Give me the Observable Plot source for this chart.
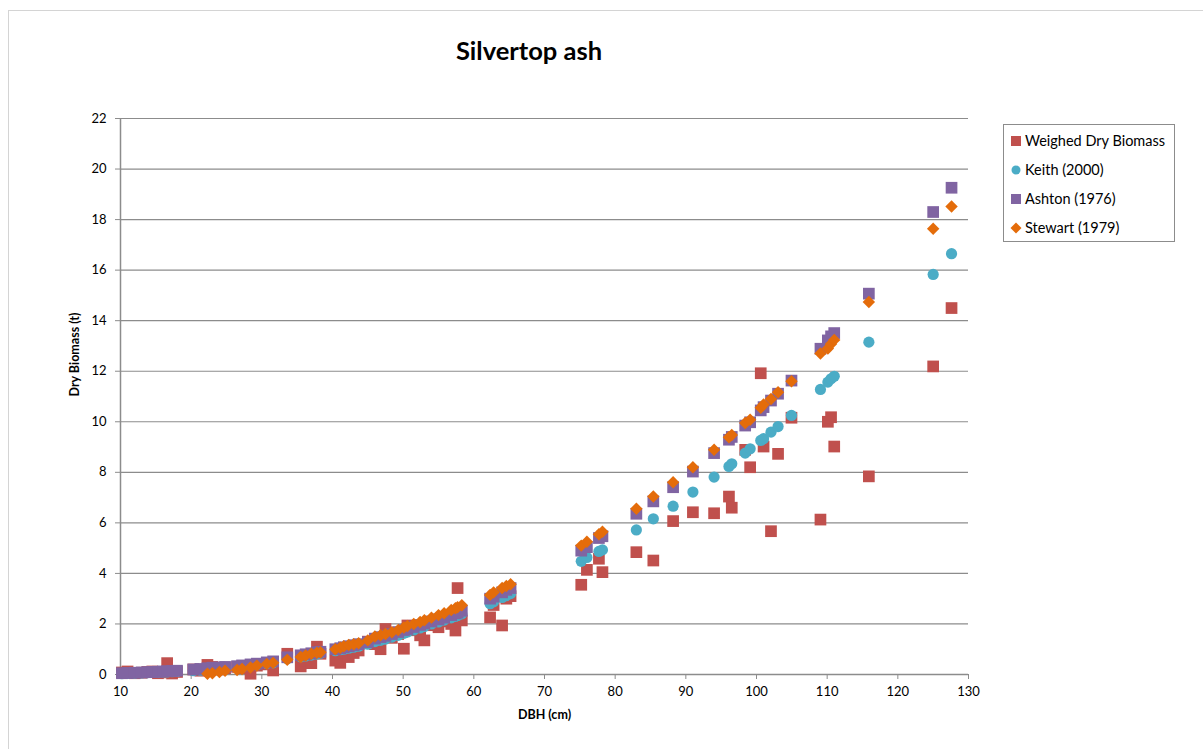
<!DOCTYPE html>
<html>
<head>
<meta charset="utf-8">
<script src="https://cdn.jsdelivr.net/npm/d3@7"></script>
<script src="https://cdn.jsdelivr.net/npm/@observablehq/plot@0.6"></script>
<style>
  html, body { margin: 0; padding: 0; background: #fff; }
  #wrap { position: relative; width: 1203px; height: 749px; overflow: hidden; font-family: Lato, "Open Sans", sans-serif; }
  #border { position: absolute; left: 8px; top: 10px; width: 1220px; height: 760px; border: 1px solid #d4d4d4; box-sizing: border-box; }
  #title { position: absolute; left: 0; top: 35px; width: 1058px; text-align: center; font-size: 25.5px; font-weight: bold; color: #000; }
  #chart { position: absolute; left: 0; top: 100px; }
  #legend { position: absolute; left: 1003px; top: 124px; width: 172px; height: 118px; border: 1px solid #8c8c8c; box-sizing: border-box; font-size: 14.5px; color: #000; }
  .item { position: absolute; left: 6px; height: 16px; line-height: 16px; white-space: nowrap; }
  .item svg { position: absolute; left: 0; top: 2px; }
  .item span { position: absolute; left: 15px; top: 0; }
</style>
</head>
<body>
<div id="wrap">
  <div id="border"></div>
  <div id="title">Silvertop ash</div>
  <div id="chart"></div>
  <div id="legend"></div>
</div>
<script>
// Tree diameters (cm) and dry biomass (t) by source
const dbh = [10.2, 11.0, 12.0, 13.0, 13.8, 14.5, 15.3, 16.0, 16.6, 17.3, 18.0,
  20.3, 21.3, 22.3, 23.0, 24.0, 24.8, 26.5, 27.2, 28.4, 29.3, 30.7, 31.6,
  33.6, 35.5, 36.2, 37.0, 37.8, 38.3, 40.4, 41.1, 41.6, 42.3, 43.0, 43.7, 45.0,
  46.0, 46.8, 47.5, 48.4, 49.3, 50.1, 50.6, 51.5, 52.4, 53.0, 54.0, 55.0, 55.8, 56.8, 57.4, 57.7, 58.3,
  62.3, 62.8, 64.0, 64.6, 65.2,
  75.2, 76.0, 77.7, 78.2, 83.0, 85.4, 88.2, 91.0, 94.0, 96.1, 96.5, 98.4, 99.1,
  100.6, 101.0, 102.05, 103.05, 104.95, 109.05, 110.1, 110.55, 111.0, 115.9, 125.0, 127.6];
const weighed = [0.08, 0.12, 0.05, 0.07, 0.10, 0.12, 0.05, 0.08, 0.45, 0.04, 0.10,
  0.20, 0.15, 0.38, 0.30, 0.20, 0.25, 0.30, 0.25, 0.03, 0.35, 0.40, 0.16,
  0.82, 0.32, 0.55, 0.45, 1.10, 0.82, 0.55, 0.46, 0.85, 0.69, 0.85, 0.95, 1.30,
  1.20, 1.00, 1.80, 1.45, 1.60, 1.02, 1.94, 1.75, 1.55, 1.35, 1.95, 1.87, 2.10, 2.00, 1.74, 3.42, 2.14,
  2.26, 2.75, 1.94, 3.00, 3.10,
  3.55, 4.14, 4.58, 4.05, 4.84, 4.51, 6.07, 6.42, 6.38, 7.04, 6.60, 8.89, 8.20,
  11.92, 9.02, 5.67, 8.73, 10.16, 6.13, 10.00, 10.18, 9.02, 7.84, 12.19, 14.50];
const keith = [0.03, 0.04, 0.05, 0.06, 0.07, 0.08, 0.09, 0.10, 0.10, 0.11, 0.12,
  0.15, 0.17, 0.19, 0.20, 0.22, 0.24, 0.28, 0.30, 0.35, 0.38, 0.43, 0.46,
  0.62, 0.70, 0.73, 0.77, 0.81, 0.84, 0.94, 0.98, 1.00, 1.04, 1.08, 1.12, 1.20,
  1.30, 1.35, 1.40, 1.48, 1.55, 1.63, 1.68, 1.76, 1.84, 1.90, 2.00, 2.08, 2.15, 2.24, 2.30, 2.33, 2.40,
  2.80, 2.88, 3.05, 3.12, 3.20,
  4.48, 4.63, 4.87, 4.93, 5.72, 6.16, 6.66, 7.22, 7.81, 8.23, 8.34, 8.76, 8.93,
  9.26, 9.33, 9.59, 9.81, 10.25, 11.28, 11.57, 11.70, 11.80, 13.15, 15.83, 16.65];
const ashton = [0.05, 0.06, 0.07, 0.08, 0.09, 0.10, 0.11, 0.12, 0.13, 0.14, 0.15,
  0.20, 0.22, 0.25, 0.27, 0.28, 0.30, 0.33, 0.36, 0.40, 0.43, 0.48, 0.52,
  0.68, 0.76, 0.80, 0.84, 0.88, 0.90, 1.00, 1.04, 1.08, 1.12, 1.16, 1.20, 1.28,
  1.42, 1.48, 1.53, 1.60, 1.68, 1.76, 1.80, 1.88, 1.96, 2.02, 2.10, 2.18, 2.25, 2.35, 2.42, 2.45, 2.52,
  3.00, 3.08, 3.25, 3.35, 3.42,
  4.90, 5.04, 5.40, 5.47, 6.36, 6.85, 7.41, 8.03, 8.76, 9.29, 9.40, 9.85, 9.98,
  10.45, 10.58, 10.84, 11.11, 11.63, 12.89, 13.22, 13.38, 13.51, 15.07, 18.30, 19.26];
const stewart = [null, null, null, null, null, null, null, null, null, null, null,
  null, null, 0.03, 0.05, 0.10, 0.15, 0.18, 0.22, 0.28, 0.35, 0.42, 0.46,
  0.58, 0.69, 0.75, 0.82, 0.86, 0.88, 1.00, 1.06, 1.12, 1.17, 1.20, 1.24, 1.35,
  1.50, 1.55, 1.60, 1.67, 1.76, 1.86, 1.92, 2.00, 2.08, 2.15, 2.25, 2.35, 2.42, 2.55, 2.62, 2.66, 2.74,
  3.15, 3.25, 3.42, 3.50, 3.57,
  5.10, 5.25, 5.55, 5.65, 6.56, 7.04, 7.61, 8.20, 8.89, 9.39, 9.48, 9.95, 10.08,
  10.55, 10.68, 10.90, 11.17, 11.60, 12.70, 12.90, 13.08, 13.24, 14.74, 17.64, 18.52];

const seriesNames = ["Weighed Dry Biomass", "Keith (2000)", "Ashton (1976)", "Stewart (1979)"];
const seriesColors = ["#C0504D", "#4BACC6", "#8064A2", "#E46C0A"];
const seriesSymbols = ["square", "circle", "square", "diamond2"];
const seriesR = [6.6, 5.6, 6.6, 5.6];
const seriesValues = [weighed, keith, ashton, stewart];

const xTicks = [10, 20, 30, 40, 50, 60, 70, 80, 90, 100, 110, 120, 130];
const yTicks = [0, 2, 4, 6, 8, 10, 12, 14, 16, 18, 20, 22];

const rows = seriesValues.map(vals =>
  dbh.map((d, i) => ({dbh: d, v: vals[i]})).filter(r => r.v != null));

const gridColor = "#8c8c8c";

const plot = Plot.plot({
  width: 1203,
  height: 649,
  marginLeft: 120,
  marginRight: 235,
  marginTop: 18,
  marginBottom: 75,
  style: {fontFamily: "Lato, 'Open Sans', sans-serif", fontSize: "13px", color: "#000", background: "transparent", overflow: "visible"},
  x: {domain: [10, 130]},
  y: {domain: [0, 22]},
  marks: [
    Plot.gridY(yTicks, {stroke: gridColor, strokeOpacity: 1, strokeWidth: 1.2}),
    Plot.ruleX([10], {stroke: gridColor, strokeWidth: 1.5}),
    Plot.ruleY([0], {stroke: gridColor, strokeWidth: 1.5}),
    Plot.axisY(yTicks, {tickSize: 5, tickPadding: 9, stroke: gridColor, label: null, fill: "#000"}),
    Plot.axisX(xTicks, {tickSize: 5, tickPadding: 7, stroke: gridColor, label: null, fill: "#000"}),
    ...rows.map((data, k) => Plot.dot(data, {
      x: "dbh", y: "v", symbol: () => seriesSymbols[k], r: seriesR[k],
      fill: seriesColors[k], stroke: "none"
    })),
    Plot.text(["Dry Biomass (t)"], {frameAnchor: "left", dx: -46, rotate: -90, fontWeight: "bold", fontSize: 12.5, fill: "#000"}),
    Plot.text(["DBH (cm)"], {frameAnchor: "bottom", dy: 44, fontWeight: "bold", fontSize: 12.5, fill: "#000"})
  ]
});
document.getElementById("chart").appendChild(plot);

// Legend
const legend = document.getElementById("legend");
const legendTops = [8, 37, 66, 95];
seriesNames.forEach((name, k) => {
  const item = document.createElement("div");
  item.className = "item";
  item.style.top = legendTops[k] + "px";
  let shape;
  const c = seriesColors[k];
  if (k === 1) shape = `<circle cx="6" cy="6" r="4.5" fill="${c}"/>`;
  else if (k === 3) shape = `<path d="M6,0.5L11.5,6L6,11.5L0.5,6Z" fill="${c}"/>`;
  else shape = `<rect x="1" y="1" width="10" height="10" fill="${c}"/>`;
  item.innerHTML = `<svg width="12" height="12">${shape}</svg><span>${name}</span>`;
  legend.appendChild(item);
});
</script>
</body>
</html>
